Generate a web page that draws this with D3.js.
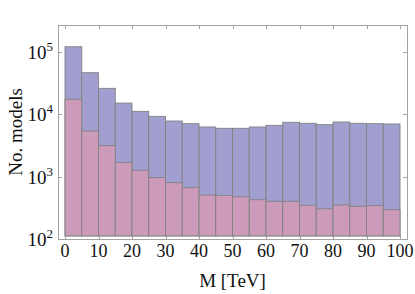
<!DOCTYPE html>
<html>
<head>
<meta charset="utf-8">
<script src="https://cdn.jsdelivr.net/npm/d3@7"></script>
<style>
  html, body { margin: 0; padding: 0; background: #fff; }
  svg { display: block; }
  text { font-family: "Liberation Serif", "DejaVu Serif", serif; fill: #111; }
</style>
</head>
<body>
<script>
// ---- data ----
const binStarts = [0,5,10,15,20,25,30,35,40,45,50,55,60,65,70,75,80,85,90,95];
const binWidth = 5;
const allModels = [122000, 46700, 26200, 15200, 11200, 9300, 7830, 7100, 6280, 5980,
                   5980, 6280, 6680, 7470, 7200, 6840, 7550, 7200, 7100, 7020];
const subsetModels = [17500, 5420, 3150, 1680, 1270, 964, 802, 667, 508, 502,
                      477, 427, 403, 403, 348, 306, 351, 335, 343, 295];
const xTickValues = [0,10,20,30,40,50,60,70,80,90,100];
const yTickExponents = [2,3,4,5];
const xLabel = "M [TeV]";
const yLabel = "No. models";

// ---- layout ----
const W = 415, H = 294;
const frame = {left: 58, right: 407, top: 25, bottom: 239};

const svg = d3.select("body").append("svg").attr("width", W).attr("height", H);

const x = d3.scaleLinear().domain([0, 100]).range([65, 400]);
const y = d3.scaleLog().domain([100, Math.pow(10, 5.435)]).range([frame.bottom, frame.top]);
const baseValue = 112;

const frameColor = "#a3a3a3";

// ticks (drawn under bars)
const tickG = svg.append("g").attr("stroke", frameColor).attr("stroke-width", 1);
xTickValues.forEach(v => {
  const px = Math.round(x(v)) + 0.5;
  tickG.append("line").attr("x1", px).attr("x2", px).attr("y1", frame.bottom).attr("y2", frame.bottom - 4);
  tickG.append("line").attr("x1", px).attr("x2", px).attr("y1", frame.top).attr("y2", frame.top + 4);
});
yTickExponents.forEach(e => {
  const py = Math.round(y(Math.pow(10, e))) + 0.5;
  tickG.append("line").attr("x1", frame.left).attr("x2", frame.left + 4).attr("y1", py).attr("y2", py);
  tickG.append("line").attr("x1", frame.right).attr("x2", frame.right - 4).attr("y1", py).attr("y2", py);
});

// bars
function drawBars(values, fill) {
  svg.append("g").selectAll("rect").data(values).join("rect")
    .attr("x", (d, i) => x(binStarts[i]))
    .attr("width", (d, i) => x(binStarts[i] + binWidth) - x(binStarts[i]))
    .attr("y", d => y(d))
    .attr("height", d => y(baseValue) - y(d))
    .attr("fill", fill)
    .attr("stroke", "#828282")
    .attr("stroke-width", 0.9);
}
drawBars(allModels, "#a19fd0");
drawBars(subsetModels, "#cc9bb9");

// frame
svg.append("rect")
  .attr("x", frame.left + 0.5).attr("y", frame.top + 0.5)
  .attr("width", frame.right - frame.left).attr("height", frame.bottom - frame.top)
  .attr("fill", "none").attr("stroke", frameColor).attr("stroke-width", 1);

// x tick labels
svg.append("g").selectAll("text").data(xTickValues).join("text")
  .attr("x", d => x(d)).attr("y", 257)
  .attr("text-anchor", "middle").attr("font-size", 18)
  .text(d => d);

// y tick labels
yTickExponents.forEach(e => {
  const t = svg.append("text")
    .attr("x", 53).attr("y", y(Math.pow(10, e)) + 7)
    .attr("text-anchor", "end").attr("font-size", 19);
  t.append("tspan").text("10");
  t.append("tspan").attr("dy", -8).attr("font-size", 13).text(e);
});

// axis labels
svg.append("text")
  .attr("x", (frame.left + frame.right) / 2).attr("y", 287)
  .attr("text-anchor", "middle").attr("font-size", 19)
  .text(xLabel);

svg.append("text")
  .attr("transform", `translate(22,${(frame.top + frame.bottom) / 2}) rotate(-90)`)
  .attr("text-anchor", "middle").attr("font-size", 19)
  .text(yLabel);
</script>
</body>
</html>
